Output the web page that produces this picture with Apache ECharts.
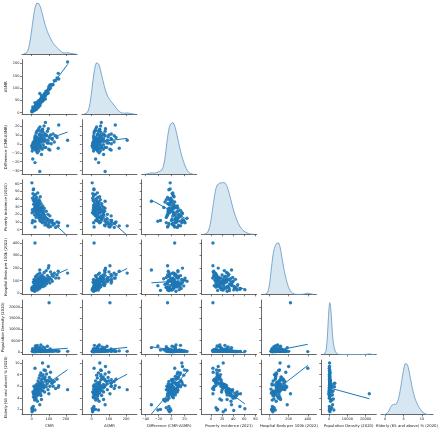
<!DOCTYPE html>
<html><head><meta charset="utf-8">
<script src="https://cdn.jsdelivr.net/npm/echarts@6/dist/echarts.min.js"></script>
<style>html,body{margin:0;padding:0;background:#fff}#c{width:440px;height:433px}</style>
</head><body><div id="c"></div>
<script>
const varNames = ['CMR','ASMR','Difference (CMR-ASMR)','Poverty incidence (2021)','Hospital Beds per 100k (2022)','Population Density (2020)','Elderly (65 and above) % (2020)'];

const cmr = [2,4,1,6,3,5,19,47,9,210,158,100,19,63,80,
10,12,14,15,16,18,20,21,22,23,24,25,26,27,28,29,30,31,32,33,34,35,36,37,38,39,40,41,42,43,44,45,46,47,48,49,50,51,52,53,54,55,56,58,60,61,62,64,66,67,69,70,72,73,75,77,78,82,85,87,90,92,95,97,99,103,106,110,114,118,120,125,132,140,148,155,
7,11,13,17,26,33,57];
const asmr = [5,9,3,23,11,6,40,78,13,206,137,106,14,47,56,
9,16,11,19,15,11,24,12,26,21,30,25,14,29,23,35,16,32,25,38,31,33,38,22,33,39,34,24,50,33,41,50,35,45,29,50,46,44,55,39,58,47,54,48,54,67,46,60,53,68,60,67,52,77,69,74,67,86,75,78,89,78,91,80,98,95,113,100,114,112,115,114,130,131,141,160,
6,13,11,23,34,43,69];
const diff = [-3,-5,-2,-17,-8,-1,-21,-31,-4,4,21,-6,5,16,24,
1,-4,3,-4,1,7,-4,9,-4,2,-6,0,12,-2,5,-6,14,-1,7,-5,3,2,-2,15,5,0,6,17,-8,10,3,-5,11,2,19,-1,4,7,-3,14,-4,8,2,10,6,-6,16,4,13,-1,9,3,20,-4,6,3,11,-4,10,9,1,14,4,17,1,8,-7,10,0,6,5,11,2,9,7,-5,
1,-2,2,-6,-8,-10,-12];
const poverty = [22,26,61,12,9,41,11,37,52,5,9,3.5,3.5,22,15,
38,33,44,27,36,29,40,31,24,46,34,28,20,38,31,42,25,35,30,22,27,48,32,18,36,26,29,21,39,15,33,24,19,30,12,27,43,16,26,11,34,23,18,28,14,20,9,31,17,25,13,22,10,28,19,6,16,8,24,11,14,5,20,13,7,10,18,4,12,9,12,6,8,3,10,5,
47,53,23,19,16,36,29];
const hospital = [35,42,28,22,48,26,60,185,30,160,120,219,400,110,95,
85,20,110,40,65,15,95,50,130,35,72,100,28,60,140,45,80,115,55,25,92,68,150,38,78,105,50,88,125,62,35,98,75,160,58,110,45,85,135,70,100,55,120,90,65,145,80,110,52,95,130,70,105,165,85,60,120,98,180,75,115,140,92,200,105,125,80,170,110,150,95,135,160,120,145,175,
25,38,95,28,46,70,115];
const popDensity = [450,320,210,780,1450,120,2600,1900,150,200,300,22000,100,250,180,
260,180,140,620,95,310,220,540,1200,170,380,260,820,140,450,210,2900,330,190,560,280,160,420,680,230,340,1800,520,250,300,200,610,380,150,270,1100,120,3100,230,410,950,300,520,180,260,720,340,2200,190,460,280,640,350,220,1700,420,310,560,260,390,2500,480,330,210,650,300,1300,420,240,560,400,380,290,610,250,420,
90,110,700,1500,2300,800,1000];
const elderly = [1.6,1.9,2.1,2.0,2.3,1.8,1.9,2.8,2.5,5.4,6.1,4.7,9.1,10.0,8.7,
4.2,4.8,4.0,5.2,4.6,5.5,3.9,5.0,5.8,4.4,5.3,4.9,6.2,5.1,5.6,4.3,5.9,5.4,5.0,6.4,5.7,4.6,5.5,6.9,5.2,6.0,4.5,6.3,5.4,7.4,5.0,5.9,6.6,5.6,7.9,6.1,4.8,6.5,5.8,8.3,4.4,6.2,7.1,5.3,7.7,5.9,6.7,5.2,8.0,6.3,7.3,5.7,8.8,6.1,5.0,7.2,7.6,6.8,5.9,8.1,6.4,7.0,5.4,9.4,6.9,7.5,6.0,8.4,7.1,6.5,6.6,6.0,6.8,5.6,7.2,5.8,
5.0,4.7,6.0,3.6,3.8,3.4,3.7];

const colTicks = [[0,100,200],[0,100,200],[-40,-20,0,20],[0,20,40,60,80],[0,200,400],[0,10000,20000],[0,5,10]];
const rowTicks = [[],[0,50,100,150,200],[-30,-20,-10,0,10,20],[0,10,20,30,40,50,60],[0,100,200,300,400],[0,5000,10000,15000,20000],[2,4,6,8,10]];
const colRange = [[-57,265],[-57,262],[-46,39],[-17,82],[-85,490],[-4300,25800],[-1.1,13]];
const rowRange = [[0,1],[-6,216],[-34,27],[-6,65],[-10,425],[-1200,23200],[1.1,10.5]];

const vars = [cmr, asmr, diff, poverty, hospital, popDensity, elderly];
const L0 = 22, PX = 59.85, W = 55, T0 = -0.5, PY = 60.1, H = 54.5;
const BLUE = '#1f77b4', AX = '#444', TXT = '#222', FONT = 'DejaVu Sans';
const fmt = v => v < 0 ? '\u2212' + Math.abs(v) : String(v);

function kde(arr) {
  const n = arr.length;
  const mean = arr.reduce((s, v) => s + v, 0) / n;
  const sd = Math.sqrt(arr.reduce((s, v) => s + (v - mean) ** 2, 0) / (n - 1));
  const bw = sd * Math.pow(n, -0.2);
  const lo = Math.min(...arr) - 3 * bw, hi = Math.max(...arr) + 3 * bw;
  const pts = []; let peak = 0;
  for (let k = 0; k <= 240; k++) {
    const x = lo + (hi - lo) * k / 240;
    let s = 0;
    for (const v of arr) { const z = (x - v) / bw; s += Math.exp(-0.5 * z * z); }
    const d = s / (n * bw * Math.sqrt(2 * Math.PI));
    if (d > peak) peak = d;
    pts.push([x, d]);
  }
  return { pts, peak };
}
function linreg(x, y) {
  const n = x.length;
  const mx = x.reduce((a, b) => a + b, 0) / n, my = y.reduce((a, b) => a + b, 0) / n;
  let sxy = 0, sxx = 0;
  for (let k = 0; k < n; k++) { sxy += (x[k] - mx) * (y[k] - my); sxx += (x[k] - mx) ** 2; }
  const b = sxy / sxx, a = my - b * mx;
  const x0 = Math.min(...x), x1 = Math.max(...x);
  return [[x0, a + b * x0], [x1, a + b * x1]];
}

const grids = [], xAxes = [], yAxes = [], series = [];
for (let i = 0; i < 7; i++) {
  for (let j = 0; j <= i; j++) {
    const g = grids.length;
    grids.push({ left: L0 + PX * j, top: T0 + PY * i, width: W, height: H });
    xAxes.push({
      type: 'value', gridIndex: g, min: colRange[j][0], max: colRange[j][1],
      axisLine: { show: true, onZero: false, lineStyle: { color: AX, width: 0.8 } },
      axisTick: { show: true, length: 2, customValues: colTicks[j], lineStyle: { color: AX, width: 0.7 } },
      axisLabel: { show: i === 6, customValues: colTicks[j], formatter: fmt, fontSize: 3.5, margin: 2.5, color: TXT, fontFamily: FONT },
      splitLine: { show: false },
      name: i === 6 ? varNames[j] : '', nameLocation: 'middle', nameGap: 9.5,
      nameTextStyle: { fontSize: 3.8, color: TXT, fontFamily: FONT }
    });
    if (i === j) {
      const k = kde(vars[j]);
      yAxes.push({ type: 'value', gridIndex: g, min: 0, max: k.peak * 1.05, show: false });
      series.push({
        type: 'line', xAxisIndex: g, yAxisIndex: g, data: k.pts, symbol: 'none', silent: true,
        lineStyle: { color: '#6e9fcb', width: 0.9 }, areaStyle: { color: 'rgba(31,119,180,0.25)' }
      });
    } else {
      yAxes.push({
        type: 'value', gridIndex: g, min: rowRange[i][0], max: rowRange[i][1],
        axisLine: { show: true, onZero: false, lineStyle: { color: AX, width: 0.8 } },
        axisTick: { show: true, length: 2, customValues: rowTicks[i], lineStyle: { color: AX, width: 0.7 } },
        axisLabel: { show: j === 0, customValues: rowTicks[i], formatter: fmt, fontSize: 3.5, margin: 2.5, color: TXT, fontFamily: FONT },
        splitLine: { show: false },
        name: j === 0 ? varNames[i] : '', nameLocation: 'middle', nameGap: 13.5,
        nameTextStyle: { fontSize: 3.8, color: TXT, fontFamily: FONT }
      });
      const xs = vars[j], ys = vars[i];
      series.push({
        type: 'scatter', xAxisIndex: g, yAxisIndex: g, symbolSize: 3.4, silent: true,
        data: xs.map((v, k) => [v, ys[k]]), itemStyle: { color: BLUE, opacity: 0.95 }
      });
      series.push({
        type: 'line', xAxisIndex: g, yAxisIndex: g, data: linreg(xs, ys), symbol: 'none', silent: true,
        lineStyle: { color: BLUE, width: 1 }, z: 3
      });
    }
  }
}

const chart = echarts.init(document.getElementById('c'), null, { renderer: 'canvas' });
chart.setOption({ animation: false, backgroundColor: '#fff', grid: grids, xAxis: xAxes, yAxis: yAxes, series });
</script></body></html>
